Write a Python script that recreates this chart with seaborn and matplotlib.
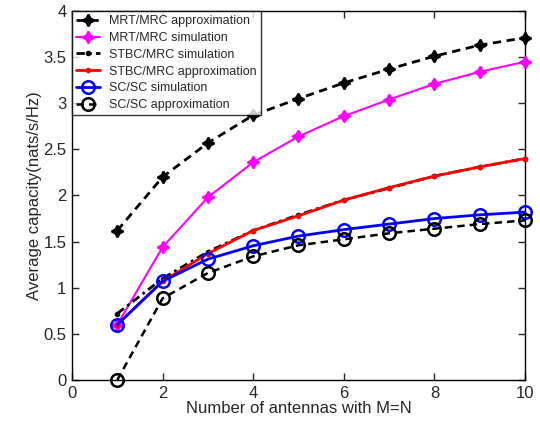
import matplotlib
matplotlib.use("Agg")
import matplotlib.pyplot as plt
import seaborn as sns

# Average capacity versus number of antennas (M = N)
antennas = [1, 2, 3, 4, 5, 6, 7, 8, 9, 10]
mrt_mrc_approx = [1.62, 2.20, 2.57, 2.87, 3.05, 3.22, 3.37, 3.51, 3.63, 3.71]
mrt_mrc_sim = [0.60, 1.44, 1.98, 2.36, 2.64, 2.86, 3.04, 3.21, 3.34, 3.45]
stbc_mrc_sim = [0.72, 1.10, 1.39, 1.62, 1.79, 1.95, 2.08, 2.21, 2.31, 2.40]
stbc_mrc_approx = [0.60, 1.07, 1.37, 1.62, 1.78, 1.95, 2.085, 2.21, 2.31, 2.40]
sc_sc_sim = [0.60, 1.07, 1.31, 1.455, 1.56, 1.63, 1.69, 1.75, 1.79, 1.82]
sc_sc_approx = [0.0, 0.885, 1.16, 1.34, 1.46, 1.525, 1.59, 1.64, 1.69, 1.73]

xticks = [0, 2, 4, 6, 8, 10]
yticks = [0, 0.5, 1, 1.5, 2, 2.5, 3, 3.5, 4]

sns.set_style("ticks")
plt.rcParams["font.family"] = ["Liberation Sans", "DejaVu Sans"]

fig = plt.figure(figsize=(5.4, 4.23), dpi=100)
ax = fig.add_axes([0.1333, 0.1017, 0.8389, 0.8723])

star4 = (4, 1, 0)
dash = (0, (3, 2))
dashdot = (0, (3, 1.5, 1, 1.5))
series = [
    (mrt_mrc_approx, "MRT/MRC approximation", "black",
     dict(linestyle=dash, marker=star4, markersize=8.5, lw=2.0,
          markerfacecolor="black", markeredgewidth=1.5)),
    (mrt_mrc_sim, "MRT/MRC simulation", "#ff00ff",
     dict(linestyle="-", marker=star4, markersize=8.5, lw=1.5,
          markerfacecolor="#ff00ff", markeredgewidth=1.5)),
    (stbc_mrc_sim, "STBC/MRC simulation", "black",
     dict(linestyle=dashdot, marker=".", markersize=6, lw=2.0,
          markerfacecolor="black", markeredgewidth=1.0)),
    (stbc_mrc_approx, "STBC/MRC approximation", "red",
     dict(linestyle="-", marker=".", markersize=6, lw=2.0,
          markerfacecolor="red", markeredgewidth=1.0)),
    (sc_sc_sim, "SC/SC simulation", "blue",
     dict(linestyle="-", marker="o", markersize=9, lw=2.0,
          markerfacecolor="none", markeredgewidth=1.8)),
    (sc_sc_approx, "SC/SC approximation", "black",
     dict(linestyle=dash, marker="o", markersize=9, lw=1.8,
          markerfacecolor="none", markeredgewidth=1.8)),
]

for values, name, color, style in series:
    sns.lineplot(x=antennas, y=values, ax=ax, label=name, color=color,
                 markeredgecolor=color, clip_on=False, zorder=3, **style)

ax.set_xlim(0, 10)
ax.set_ylim(0, 4)
ax.set_xticks(xticks)
ax.set_xticklabels([str(t) for t in xticks])
ax.set_yticks(yticks)
ax.set_yticklabels([f"{t:g}" for t in yticks])
ax.tick_params(direction="in", length=5, width=1, labelsize=12,
               top=True, right=True, pad=4)
for side in ax.spines.values():
    side.set_linewidth(1.0)
    side.set_color("black")
ax.set_xlabel("Number of antennas with M=N", fontsize=12, labelpad=0)
ax.set_ylabel("Average capacity(nats/s/Hz)", fontsize=12, labelpad=1)

leg = ax.legend(loc="upper left", borderaxespad=0, fontsize=9,
                frameon=True, fancybox=False, edgecolor="black",
                handlelength=1.9, handletextpad=0.7, labelspacing=0.38,
                borderpad=0.35)
leg.get_frame().set_linewidth(1.0)
leg.set_zorder(5)

fig.savefig("out.png", dpi=100, facecolor="white")
